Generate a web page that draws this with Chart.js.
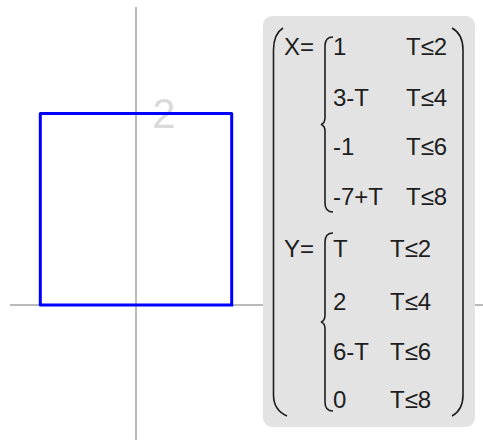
<!DOCTYPE html>
<html>
<head>
<meta charset="utf-8">
<script src="https://cdn.jsdelivr.net/npm/chart.js@4/dist/chart.umd.min.js"></script>
<style>
  html, body { margin: 0; padding: 0; background: #fff; }
  #wrap { position: relative; width: 483px; height: 440px; overflow: hidden; }
  #c { position: absolute; left: 0; top: 0; }
  #panel { position: absolute; left: 263px; top: 16px; width: 212px; height: 411px;
           background: #e3e3e3; border-radius: 9px; }
  #deco { position: absolute; left: 0; top: 0; }
  .t { position: absolute; font-family: "Liberation Sans", Arial, sans-serif; font-size: 24px;
       line-height: 24px; color: #1e1e1e; white-space: nowrap; }
</style>
</head>
<body>
<div id="wrap">
  <canvas id="c" width="483" height="440"></canvas>
  <div id="panel"></div>
  <svg id="deco" width="483" height="440"></svg>
  <div id="txt"></div>
</div>
<script>
// ---- data ----
const T = [0, 2, 4, 6, 8];
const xValues = [1, 1, -1, -1, 1];
const yValues = [0, 2, 2, 0, 0];
const yTickLabels = [2];
const xExpr = ['1', '3-T', '-1', '-7+T'];
const yExpr = ['T', '2', '6-T', '0'];
const conditions = ['T≤2', 'T≤4', 'T≤6', 'T≤8'];

const points = T.map((t, i) => ({ x: xValues[i], y: yValues[i] }));

const axesPlugin = {
  id: 'axesAtZero',
  beforeDatasetsDraw(chart) {
    const ctx = chart.ctx;
    const xs = chart.scales.x, ys = chart.scales.y;
    const x0 = xs.getPixelForValue(0), y0 = ys.getPixelForValue(0);
    ctx.save();
    ctx.strokeStyle = '#a4a4a4';
    ctx.lineWidth = 1.5;
    ctx.beginPath();
    ctx.moveTo(x0, 7); ctx.lineTo(x0, 440);
    ctx.moveTo(10, y0); ctx.lineTo(483, y0);
    ctx.stroke();
    ctx.fillStyle = '#dadada';
    ctx.font = '42px "Liberation Sans", Arial, sans-serif';
    ctx.textAlign = 'center';
    ctx.textBaseline = 'alphabetic';
    yTickLabels.forEach(v => {
      ctx.fillText(String(v), x0 + 28, ys.getPixelForValue(v) + 14);
    });
    ctx.restore();
  }
};

const unit = 95.7;
new Chart(document.getElementById('c'), {
  type: 'scatter',
  data: {
    datasets: [{
      data: points,
      showLine: true,
      borderColor: '#0000ff',
      borderWidth: 3,
      borderJoinStyle: 'round',
      borderCapStyle: 'square',
      pointRadius: 0,
      pointHoverRadius: 0,
      fill: false,
      tension: 0
    }]
  },
  options: {
    responsive: false,
    animation: false,
    devicePixelRatio: 1,
    layout: { padding: 0 },
    plugins: { legend: { display: false }, tooltip: { enabled: false } },
    scales: {
      x: { type: 'linear', display: false, min: -136 / unit, max: (483 - 136) / unit },
      y: { type: 'linear', display: false, min: -(440 - 305) / unit, max: 305 / unit }
    }
  },
  plugins: [axesPlugin]
});

// ---- formula panel text ----
const txt = document.getElementById('txt');
function put(s, left, cy) {
  const el = document.createElement('span');
  el.className = 't';
  el.textContent = s;
  el.style.left = left + 'px';
  el.style.top = (cy - 12) + 'px';
  txt.appendChild(el);
}
const xRows = [47, 98, 147, 197];
const yRows = [249, 302, 352, 400];
put('X=', 284, xRows[0]);
put('Y=', 284, yRows[0]);
xExpr.forEach((s, i) => put(s, 333, xRows[i]));
conditions.forEach((s, i) => put(s, 406, xRows[i]));
yExpr.forEach((s, i) => put(s, 333, yRows[i]));
conditions.forEach((s, i) => put(s, 390, yRows[i]));

// braces and parentheses
const svg = document.getElementById('deco');
function path(d) {
  const p = document.createElementNS('http://www.w3.org/2000/svg', 'path');
  p.setAttribute('d', d);
  p.setAttribute('fill', 'none');
  p.setAttribute('stroke', '#1e1e1e');
  p.setAttribute('stroke-width', '1.6');
  svg.appendChild(p);
}
function brace(x, top, bot) {
  const mid = (top + bot) / 2;
  path(`M ${x + 8} ${top} Q ${x} ${top} ${x} ${top + 9} L ${x} ${mid - 7} Q ${x} ${mid - 1} ${x - 4} ${mid} Q ${x} ${mid + 1} ${x} ${mid + 7} L ${x} ${bot - 9} Q ${x} ${bot} ${x + 8} ${bot}`);
}
brace(325, 37, 212);
brace(325, 233, 411);
path('M 283 28 Q 273.5 34 273.5 50 L 273.5 395 Q 273.5 410 287 416');
path('M 452 28 Q 463 34 463 50 L 463 395 Q 463 410 452 416');
</script>
</body>
</html>
